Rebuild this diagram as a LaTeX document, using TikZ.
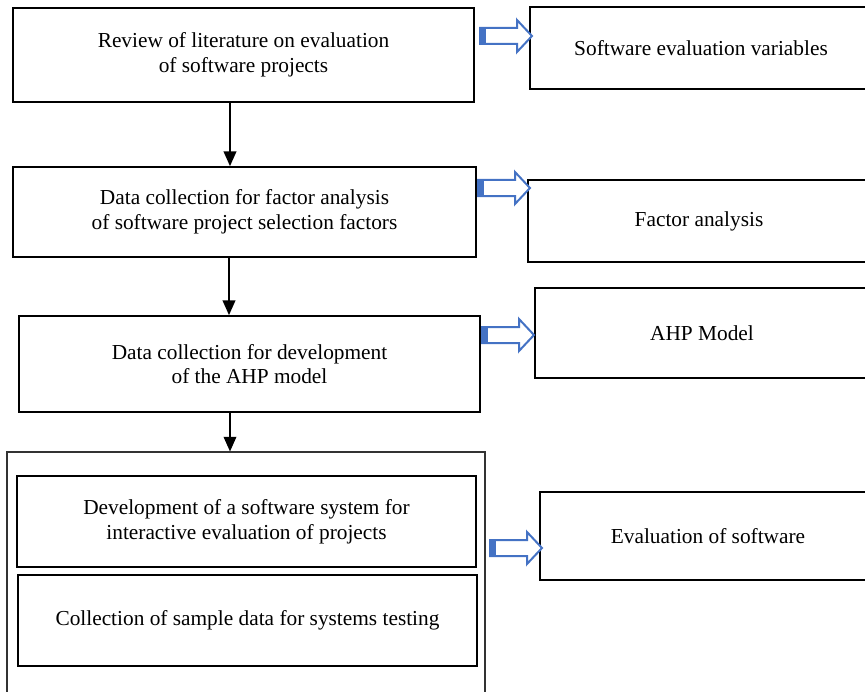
\documentclass[tikz,border=0pt]{standalone}
\usepackage{fontspec}
\setmainfont{Liberation Serif}
\usepackage{tikz}
\usetikzlibrary{arrows.meta,positioning}
\definecolor{arrowblue}{RGB}{68,114,196}
\tikzset{
  stepbox/.style={rectangle, draw=black, line width=1.3pt, align=center, inner sep=0pt, font=\fontsize{16}{18.5}\selectfont},
  flow/.style={line width=1.1pt, -{Triangle[width=9.5pt,length=11pt]}},
}
% hollow blue block arrow, tail centre at #1
\newcommand{\blockarrow}[1]{%
  \draw[arrowblue, line width=1.5pt, fill=white, line join=miter] (#1) ++(0,-8) -- ++(37,0) -- ++(0,-8) -- ++(15,16) -- ++(-15,16) -- ++(0,-8) -- ++(-37,0) -- cycle;
  \fill[arrowblue] (#1) ++(0,-8) rectangle ++(6,16);
}

\begin{document}
\begin{tikzpicture}[x=0.75pt, y=-0.75pt]
\useasboundingbox (0,0) rectangle (865,692);

% Left column
\node[stepbox, minimum width=345.75pt, minimum height=70.5pt] (review) at (243.5,55) {Review of literature on evaluation\\of software projects};
\node[stepbox, minimum width=347.25pt, minimum height=67.5pt] (factordata) at (244.5,212) {Data collection for factor analysis\\of software project selection factors};
\node[stepbox, minimum width=345.75pt, minimum height=72pt] (ahpdata) at (249.5,364) {Data collection for development\\of the AHP model};
\node[rectangle, draw=black!80, line width=0.8pt, minimum width=358.5pt, minimum height=186pt, inner sep=0pt] (group) at (246,576) {};
\node[stepbox, minimum width=344.25pt, minimum height=68.25pt] (devsystem) at (246.5,521.5) {Development of a software system for\\interactive evaluation of projects};
\node[stepbox, minimum width=344.25pt, minimum height=68.25pt] (sample) at (247.5,620.5) {Collection of sample data for systems testing};

% Right column
\node[stepbox, minimum width=256.5pt, minimum height=61.5pt] (variables) at (701,48) {Software evaluation variables};
\node[stepbox, minimum width=256.5pt, minimum height=61.5pt] (factor) at (699,221) {Factor analysis};
\node[stepbox, minimum width=250.5pt, minimum height=67.5pt] (ahp) at (702,333) {AHP Model};
\node[stepbox, minimum width=252pt, minimum height=66pt] (evaluation) at (708,536) {Evaluation of software};

% Flow arrows
\draw[flow] (review.south -| 230,0) -- (factordata.north -| 230,0);
\draw[flow] (factordata.south -| 229,0) -- (ahpdata.north -| 229,0);
\draw[flow] (ahpdata.south -| 230,0) -- (group.north -| 230,0);

% Output arrows
\coordinate (out1) at (480,36);
\coordinate (out2) at (478,188);
\coordinate (out3) at (482,335);
\coordinate (out4) at (490,548);
\blockarrow{out1}
\blockarrow{out2}
\blockarrow{out3}
\blockarrow{out4}
\end{tikzpicture}
\end{document}
